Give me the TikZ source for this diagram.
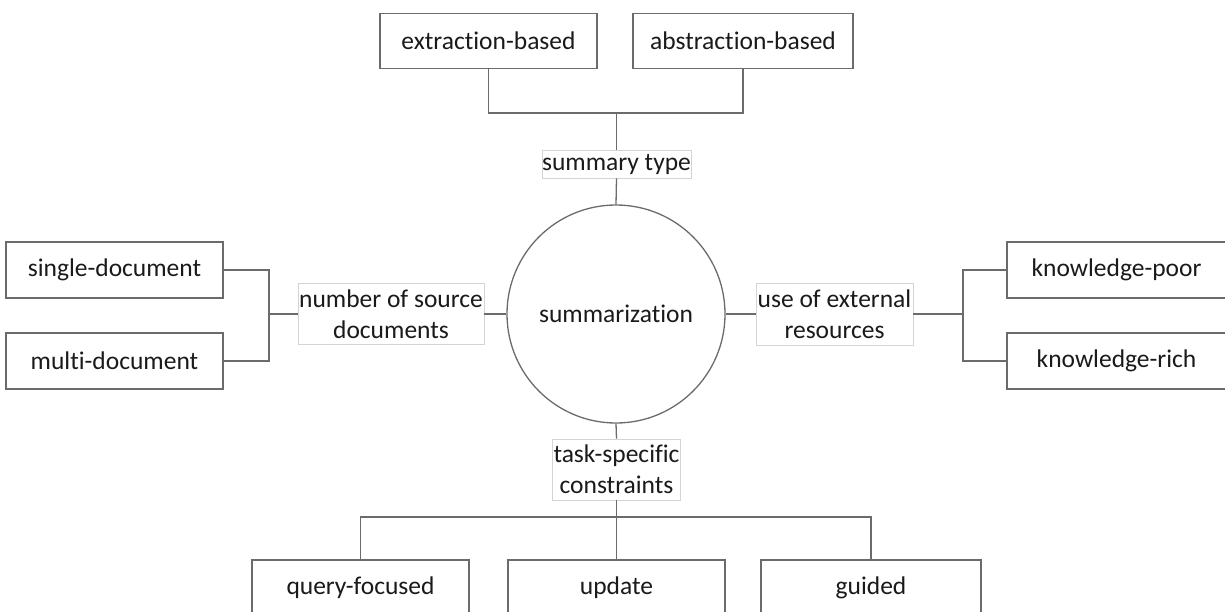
\documentclass[tikz,border=0pt]{standalone}
\usepackage{fontspec}
\setmainfont{Carlito}[Ligatures={NoCommon}]
\definecolor{edge}{HTML}{6B6B6B}
\definecolor{labeledge}{HTML}{D4D4D4}
\definecolor{ink}{HTML}{1A1A1A}
\begin{document}
\begin{tikzpicture}[x=1pt,y=-1pt,
  every node/.style={text=ink,font=\fontsize{25.5}{31}\selectfont,align=center,inner sep=0pt},
  leaf/.style={draw=edge,line width=1.3pt,fill=white,rectangle,minimum width=218pt,minimum height=55pt},
  cat/.style={draw=labeledge,line width=0.8pt,fill=white,rectangle},
  hub/.style={draw=edge,line width=1.3pt,circle,minimum size=218pt},
  link/.style={draw=edge,line width=1.3pt}]
\useasboundingbox (0,0) rectangle (1225,612);
\clip (0,0) rectangle (1225,612);

% central concept
\node[hub] (hub) at (616,314) {summarization};

% dimension labels
\node[cat,minimum width=149pt,minimum height=28pt] (stype) at (616.5,164) {summary type};
\node[cat,minimum width=186pt,minimum height=61pt] (nsrc) at (391,314) {number of source\\documents};
\node[cat,minimum width=157pt,minimum height=62pt] (eres) at (834.5,314) {use of external\\resources};
\node[cat,minimum width=128pt,minimum height=61pt] (task) at (616.5,469.5) {task-specific\\constraints};

% leaves
\node[leaf,minimum width=217pt] (ext) at (488.5,41) {extraction-based};
\node[leaf,minimum width=220pt] (abs) at (743,41) {abstraction-based};
\node[leaf,minimum width=217pt,minimum height=56pt] (single) at (114.5,270) {single-document};
\node[leaf,minimum width=217pt,minimum height=56pt] (multi) at (114.5,361) {multi-document};
\node[leaf,minimum width=219pt,minimum height=56pt] (kpoor) at (1116.5,270) {knowledge-poor};
\node[leaf,minimum width=219pt,minimum height=56pt] (krich) at (1116.5,361) {knowledge-rich};
\node[leaf,minimum width=217pt,minimum height=56pt] (query) at (360.5,588) {query-focused};
\node[leaf,minimum width=217pt,minimum height=56pt] (update) at (616.5,588) {update};
\node[leaf,minimum width=220pt,minimum height=56pt] (guided) at (871,588) {guided};

% junction points of the brackets
\coordinate (jTop) at (616.5,113);
\coordinate (jLeft) at (269,314);
\coordinate (jRight) at (963,314);
\coordinate (jBot) at (616.5,517);

% top branch
\path[link] (hub.north) -- (stype.south);
\path[link] (stype.north) -- (jTop);
\path[link] (ext.south) |- (jTop) -| (abs.south);

% left branch
\path[link] (hub.west) -- (nsrc.east);
\path[link] (nsrc.west) -- (jLeft);
\path[link] (single.east) -| (jLeft) |- (multi.east);

% right branch
\path[link] (hub.east) -- (eres.west);
\path[link] (eres.east) -- (jRight);
\path[link] (kpoor.west) -| (jRight) |- (krich.west);

% bottom branch
\path[link] (hub.south) -- (task.north);
\path[link] (task.south) -- (jBot);
\path[link] (query.north) |- (jBot) -| (guided.north);
\path[link] (jBot) -- (update.north);
\end{tikzpicture}
\end{document}
